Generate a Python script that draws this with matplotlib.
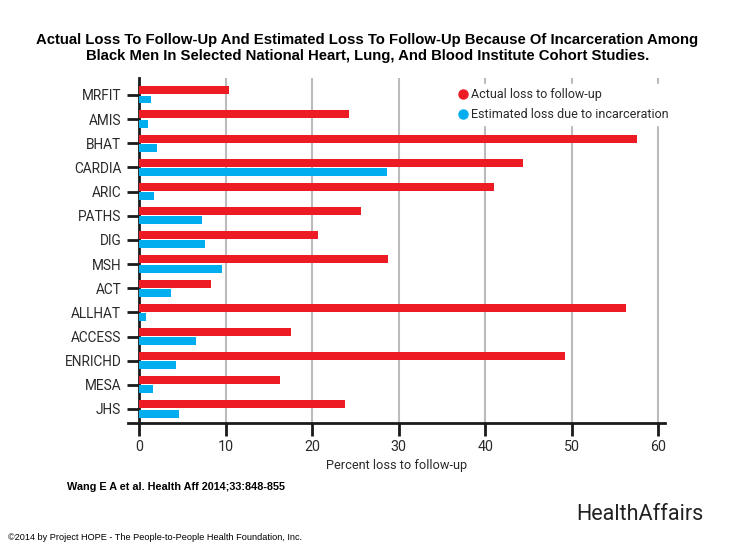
import matplotlib
matplotlib.use("Agg")
import matplotlib.pyplot as plt
from matplotlib.lines import Line2D
import numpy as np

studies = ["MRFIT", "AMIS", "BHAT", "CARDIA", "ARIC", "PATHS", "DIG",
           "MSH", "ACT", "ALLHAT", "ACCESS", "ENRICHD", "MESA", "JHS"]
actual_loss = [10.4, 24.3, 57.6, 44.4, 41.0, 25.7, 20.7,
               28.8, 8.3, 56.3, 17.5, 49.2, 16.3, 23.8]
estimated_loss = [1.4, 1.0, 2.0, 28.6, 1.7, 7.2, 7.6,
                  9.6, 3.7, 0.8, 6.6, 4.2, 1.6, 4.6]
x_ticks = [0, 10, 20, 30, 40, 50, 60]

RED = "#ED1C24"
BLUE = "#00AEEF"
TEXT = "#2a2a2a"
LABEL_FONT = ["Roboto", "DejaVu Sans"]
ARIAL = ["Liberation Sans", "DejaVu Sans"]

fig = plt.figure(figsize=(7.35, 5.51), dpi=100, facecolor="white")
ax = fig.add_axes([128 / 735, 1 - 423 / 551, 537 / 735, 345 / 551])

y = np.arange(len(studies))
h = 0.33
ax.barh(y - 0.19, actual_loss, height=h, color=RED, zorder=3)
ax.barh(y + 0.19, estimated_loss, height=h, color=BLUE, zorder=3)

ax.set_xlim(-1.3, 60.8)
ax.set_ylim(len(studies) - 1 + 0.58, -0.70)

ax.spines["left"].set_position(("data", 0))
for side in ("top", "right"):
    ax.spines[side].set_visible(False)
for side in ("left", "bottom"):
    ax.spines[side].set_linewidth(2)
    ax.spines[side].set_color("#1a1a1a")

ax.set_xticks(x_ticks)
ax.set_xticklabels([str(t) for t in x_ticks], family=LABEL_FONT, fontsize=10.3,
                   color=TEXT)
ax.set_yticks(y)
ax.set_yticklabels(studies, family=LABEL_FONT, fontsize=9.8, color=TEXT)
ax.tick_params(axis="both", length=9, width=2, color="#1a1a1a")
ax.tick_params(axis="x", pad=3)
ax.tick_params(axis="y", pad=4)

for t in x_ticks[1:]:
    ax.axvline(t, color="#bbbbbb", linewidth=1.5, zorder=1)

ax.set_xlabel("Percent loss to follow-up", family=LABEL_FONT, fontsize=9.2,
              color=TEXT, labelpad=4)

handles = [
    Line2D([], [], marker="o", linestyle="none", color=RED, markersize=6.5),
    Line2D([], [], marker="o", linestyle="none", color=BLUE, markersize=6.5),
]
leg = ax.legend(handles, ["Actual loss to follow-up",
                          "Estimated loss due to incarceration"],
                loc="upper right", bbox_to_anchor=(1.025, 1.0),
                prop={"family": LABEL_FONT, "size": 9.0},
                frameon=True, facecolor="white", edgecolor="white",
                framealpha=1, handletextpad=0.15, handlelength=1.0,
                labelspacing=0.6, borderpad=0.3)
leg.set_zorder(5)
for txt in leg.get_texts():
    txt.set_color(TEXT)

fig.text(0.5, 1 - 48 / 551,
         "Actual Loss To Follow-Up And Estimated Loss To Follow-Up Because Of Incarceration Among\n"
         "Black Men In Selected National Heart, Lung, And Blood Institute Cohort Studies.",
         ha="center", va="center", fontsize=10.7, fontweight="bold",
         family=ARIAL, linespacing=1.15)

fig.text(67 / 735, 1 - 487 / 551, "Wang E A et al. Health Aff 2014;33:848-855",
         ha="left", va="center", fontsize=7.8, fontweight="bold", family=ARIAL)
fig.text(8 / 735, 1 - 537 / 551,
         "\u00a92014 by Project HOPE - The People-to-People Health Foundation, Inc.",
         ha="left", va="center", fontsize=6.6, family=ARIAL)
fig.text(703 / 735, 1 - 515 / 551, "HealthAffairs", ha="right", va="center",
         fontsize=15.5, family=LABEL_FONT, color="#222222")

fig.savefig("out.png", dpi=100, facecolor="white")
